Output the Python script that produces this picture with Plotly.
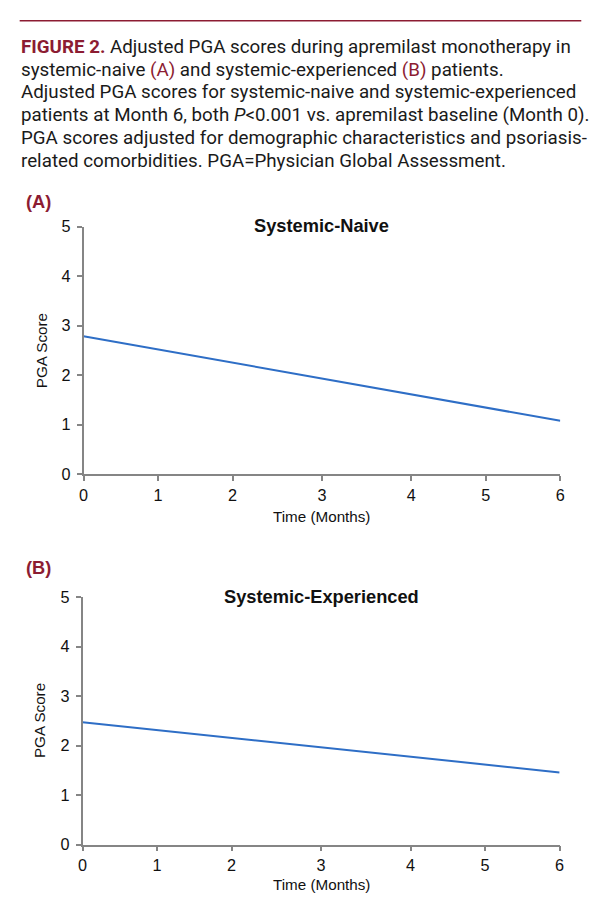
import plotly.graph_objects as go

# ---------------- data ----------------
month_labels = ["0", "1", "2", "3", "4", "5", "6"]
# tick positions read off the (non-uniform) time axis of the picture
month_positions = [0, 5, 10, 16, 22, 27, 32]
y_ticks = [0, 1, 2, 3, 4, 5]

line_months = [0, 6]
naive_scores = [2.79, 1.08]
experienced_scores = [2.475, 1.46]

panel_titles = ["Systemic-Naive", "Systemic-Experienced"]
panel_labels = ["(A)", "(B)"]
y_title = "PGA Score"
x_title = "Time (Months)"

RED = "#8c1c32"
caption_lines = [
    f"<b><span style='color:{RED}'>FIGURE 2.</span></b> Adjusted PGA scores during apremilast monotherapy in",
    f"systemic-naive <span style='color:{RED}'>(A)</span> and systemic-experienced <span style='color:{RED}'>(B)</span> patients.",
    "Adjusted PGA scores for systemic-naive and systemic-experienced",
    "patients at Month 6, both <i>P</i>&lt;0.001 vs. apremilast baseline (Month 0).",
    "PGA scores adjusted for demographic characteristics and psoriasis-",
    "related comorbidities. PGA=Physician Global Assessment.",
]

# ---------------- layout helpers ----------------
W, H = 600, 922
# the photographed page maps figure pixels as screen = O + S * fig
SX, SY, OX, OY = 0.9858, 0.985, 12.3, 15.3
def px_x(p):
    return ((p - OX) / SX) / W
def px_y(p):
    return 1 - ((p - OY) / SY) / H
def fs(s):
    return s / SX

CAPTION_FONT = "Roboto, Liberation Sans, Arial, sans-serif"
ARIAL = "Liberation Sans, Arial, sans-serif"
LINE_COLOR = "#2e6ec6"
AXIS_COLOR = "#858585"
TEXT_COLOR = "#111111"

pos_of = dict(zip([int(m) for m in month_labels], month_positions))

fig = go.Figure()

panels = [
    dict(scores=naive_scores, xd=(83, 561), yd=(226, 474.7), title_y=225, label_y=201,
         xtitle_y=517, ytitle_x=41),
    dict(scores=experienced_scores, xd=(82, 560.3), yd=(598.3, 846.7), title_y=597, label_y=568.5,
         xtitle_y=886.5, ytitle_x=39.5),
]

def note(**kw):
    d = dict(xref="paper", yref="paper", showarrow=False)
    d.update(kw)
    return d

annotations = []
for i, p in enumerate(panels):
    n = "" if i == 0 else str(i + 1)
    fig.add_trace(go.Scatter(
        x=[pos_of[m] for m in line_months], y=p["scores"],
        mode="lines", line=dict(color=LINE_COLOR, width=2),
        xaxis="x" + n, yaxis="y" + n, showlegend=False, hoverinfo="skip",
    ))
    xa = dict(
        domain=[px_x(p["xd"][0]), px_x(p["xd"][1])],
        range=[month_positions[0], month_positions[-1]],
        tickvals=month_positions, ticktext=month_labels,
        showline=True, linecolor=AXIS_COLOR, linewidth=1.5,
        ticks="outside", ticklen=5, tickwidth=1.5, tickcolor=AXIS_COLOR,
        showgrid=False, zeroline=False, fixedrange=True,
        tickfont=dict(family=ARIAL, size=fs(16), color=TEXT_COLOR),
        anchor="y" + n,
    )
    ya = dict(
        domain=[px_y(p["yd"][1]), px_y(p["yd"][0])],
        range=[0, 5], tickvals=y_ticks,
        showline=True, linecolor=AXIS_COLOR, linewidth=1.5,
        ticks="outside", ticklen=5, tickwidth=1.5, tickcolor=AXIS_COLOR,
        ticklabelstandoff=3,
        showgrid=False, zeroline=False, fixedrange=True,
        tickfont=dict(family=ARIAL, size=fs(16), color=TEXT_COLOR),
        anchor="x" + n,
    )
    fig.update_layout(**{"xaxis" + n: xa, "yaxis" + n: ya})

    xc = (p["xd"][0] + p["xd"][1]) / 2
    annotations.append(note(text=f"<b>{panel_titles[i]}</b>", x=px_x(xc), y=px_y(p["title_y"]),
                            xanchor="center", yanchor="middle",
                            font=dict(family=ARIAL, size=fs(18), color="#111")))
    annotations.append(note(text=x_title, x=px_x(xc), y=px_y(p["xtitle_y"]),
                            xanchor="center", yanchor="middle",
                            font=dict(family=ARIAL, size=fs(15), color=TEXT_COLOR)))
    annotations.append(note(text=y_title, x=px_x(p["ytitle_x"]),
                            y=px_y((p["yd"][0] + p["yd"][1]) / 2), textangle=-90,
                            xanchor="center", yanchor="middle",
                            font=dict(family=ARIAL, size=fs(15), color=TEXT_COLOR)))
    annotations.append(note(text=f"<b>{panel_labels[i]}</b>", x=px_x(23.5), y=px_y(p["label_y"]),
                            xanchor="left", yanchor="middle",
                            font=dict(family=ARIAL, size=fs(18), color=RED)))

cap_fs = 18.5
baselines = [52.3, 75.2, 98.1, 121.0, 143.9, 166.8]
for line, b in zip(caption_lines, baselines):
    annotations.append(note(text=line, x=px_x(18), y=px_y(b - 7),
                            xanchor="left", yanchor="middle",
                            font=dict(family=CAPTION_FONT, size=fs(cap_fs), color="#1a1a1a")))

fig.update_layout(
    width=W, height=H,
    margin=dict(l=0, r=0, t=0, b=0),
    paper_bgcolor="white", plot_bgcolor="white",
    annotations=annotations,
    shapes=[dict(type="line", xref="paper", yref="paper",
                 x0=px_x(19), x1=px_x(582), y0=px_y(19), y1=px_y(19),
                 line=dict(color=RED, width=1.5))],
)

fig.write_html("out.html")
